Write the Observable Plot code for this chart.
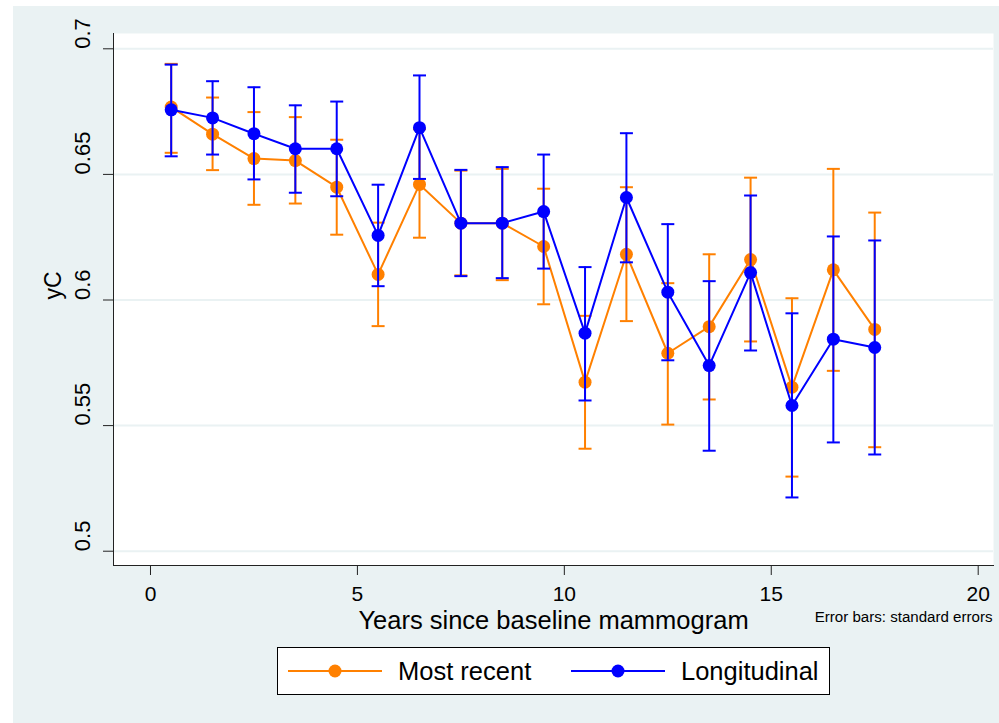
<!DOCTYPE html>
<html>
<head>
<meta charset="utf-8">
<script src="https://cdn.jsdelivr.net/npm/d3@7"></script>
<script src="https://cdn.jsdelivr.net/npm/@observablehq/plot@0.6"></script>
<style>
  body { margin: 0; background: #ffffff; font-family: "Liberation Sans", Arial, sans-serif; }
  #page { position: relative; width: 999px; height: 723px; overflow: hidden; }
  #bg { position: absolute; left: 13px; top: 6px; width: 986px; height: 717px; background: #eaf2f3; }
  #chart { position: absolute; left: 0; top: 0; }
  #legend { position: absolute; left: 277px; top: 647px; width: 551px; height: 46px; border: 1px solid #000; background: #fff; }
  .sw { position: absolute; top: 0; }
  .lt { position: absolute; top: 0; height: 46px; line-height: 46px; font-size: 25.5px; color: #000; white-space: nowrap; }
</style>
</head>
<body>
<div id="page">
  <div id="bg"></div>
  <div id="chart"></div>
  <div id="legend"></div>
</div>
<script>
// ---- data ----
const years = [0.5, 1.5, 2.5, 3.5, 4.5, 5.5, 6.5, 7.5, 8.5, 9.5, 10.5, 11.5, 12.5, 13.5, 14.5, 15.5, 16.5, 17.5];

const recentMean = [0.6768, 0.6660, 0.6563, 0.6555, 0.6449, 0.6102, 0.6460, 0.6306, 0.6306, 0.6213, 0.5673, 0.6182, 0.5788, 0.5894, 0.6161, 0.5653, 0.6120, 0.5883];
const recentLo   = [0.6586, 0.6517, 0.6379, 0.6384, 0.6260, 0.5896, 0.6248, 0.6098, 0.6079, 0.5983, 0.5408, 0.5916, 0.5504, 0.5604, 0.5835, 0.5297, 0.5718, 0.5414];
const recentHi   = [0.6940, 0.6806, 0.6748, 0.6728, 0.6638, 0.6308, 0.6680, 0.6515, 0.6522, 0.6443, 0.5937, 0.6449, 0.6067, 0.6182, 0.6487, 0.6007, 0.6522, 0.6348];

const longMean = [0.6757, 0.6725, 0.6662, 0.6602, 0.6602, 0.6257, 0.6686, 0.6306, 0.6306, 0.6352, 0.5868, 0.6408, 0.6031, 0.5739, 0.6109, 0.5580, 0.5844, 0.5811];
const longLo   = [0.6572, 0.6579, 0.6480, 0.6427, 0.6413, 0.6055, 0.6482, 0.6095, 0.6087, 0.6125, 0.5600, 0.6150, 0.5760, 0.5400, 0.5799, 0.5214, 0.5433, 0.5385];
const longHi   = [0.6937, 0.6871, 0.6847, 0.6775, 0.6790, 0.6459, 0.6894, 0.6518, 0.6529, 0.6579, 0.6131, 0.6664, 0.6302, 0.6075, 0.6416, 0.5947, 0.6253, 0.6237];

const seriesNames = ["Most recent", "Longitudinal"];
const seriesColors = ["#ff8000", "#0000ff"];

const xTicks = [0, 5, 10, 15, 20];
const yTicks = [0.5, 0.55, 0.6, 0.65, 0.7];
const yTickLabels = ["0.5", "0.55", "0.6", "0.65", "0.7"];

const xTitle = "Years since baseline mammogram";
const yTitle = "yC";
const note = "Error bars: standard errors";

// ---- tables ----
const recent = years.map((x, i) => ({x, mean: recentMean[i], lo: recentLo[i], hi: recentHi[i]}));
const longi = years.map((x, i) => ({x, mean: longMean[i], lo: longLo[i], hi: longHi[i]}));

const capSymbol = {
  draw(ctx, size) {
    const r = Math.sqrt(size / Math.PI);
    ctx.moveTo(-r, 0);
    ctx.lineTo(r, 0);
  }
};

function seriesMarks(data, color) {
  return [
    Plot.ruleX(data, {x: "x", y1: "lo", y2: "hi", stroke: color, strokeWidth: 2}),
    Plot.dot(data, {x: "x", y: "lo", symbol: capSymbol, r: 6.5, stroke: color, strokeWidth: 2, fill: "none"}),
    Plot.dot(data, {x: "x", y: "hi", symbol: capSymbol, r: 6.5, stroke: color, strokeWidth: 2, fill: "none"}),
    Plot.line(data, {x: "x", y: "mean", stroke: color, strokeWidth: 2}),
    Plot.dot(data, {x: "x", y: "mean", r: 6.5, fill: color, stroke: "none"})
  ];
}

const chart = Plot.plot({
  width: 999,
  height: 640,
  marginLeft: 113,
  marginRight: 6,
  marginTop: 33,
  marginBottom: 75,
  style: {background: "transparent", fontFamily: "'Liberation Sans', Arial, sans-serif", color: "#000"},
  x: {domain: [-0.894, 20.37], label: null},
  y: {domain: [0.49431, 0.70609], label: null},
  marks: [
    Plot.frame({fill: "white", stroke: null}),
    Plot.gridY(yTicks, {stroke: "#eaf2f3", strokeOpacity: 1, strokeWidth: 2}),
    Plot.axisY(yTicks, {tickSize: 10, tickFormat: () => "", stroke: "#222", label: null}),
    Plot.text(yTicks, {y: d => d, frameAnchor: "left", dx: -24, rotate: -90, lineAnchor: "bottom", text: (d, i) => yTickLabels[i], fontSize: 22, fill: "#000"}),
    Plot.text([yTitle], {text: d => d, frameAnchor: "left", dx: -53, rotate: -90, lineAnchor: "bottom", fontSize: 23, fill: "#000"}),
    Plot.axisX(xTicks, {tickSize: 10, tickPadding: 11, fontSize: 21, stroke: "#222", fill: "#000", label: null}),
    Plot.frame({anchor: "left", stroke: "#222"}),
    Plot.frame({anchor: "bottom", stroke: "#222"}),
    Plot.text([xTitle], {text: d => d, frameAnchor: "bottom", dy: 55.3, lineAnchor: "middle", fontSize: 25.5, fill: "#000"}),
    Plot.text([note], {text: d => d, frameAnchor: "bottom-right", dx: -1, dy: 52, textAnchor: "end", lineAnchor: "middle", fontSize: 15.1, fill: "#000"}),
    ...seriesMarks(recent, seriesColors[0]),
    ...seriesMarks(longi, seriesColors[1])
  ]
});
document.getElementById("chart").appendChild(chart);

// ---- legend ----
const legend = document.getElementById("legend");
const items = [
  {name: seriesNames[0], color: seriesColors[0], swLeft: 288 - 278, txtLeft: 398 - 278},
  {name: seriesNames[1], color: seriesColors[1], swLeft: 571 - 278, txtLeft: 681 - 278}
];
items.forEach(it => {
  const sw = d3.create("svg").attr("class", "sw").attr("width", 94).attr("height", 46)
    .style("left", it.swLeft + "px");
  sw.append("line").attr("x1", 0).attr("x2", 94).attr("y1", 23).attr("y2", 23)
    .attr("stroke", it.color).attr("stroke-width", 2);
  sw.append("circle").attr("cx", 47).attr("cy", 23).attr("r", 6.5).attr("fill", it.color);
  legend.appendChild(sw.node());
  const t = document.createElement("div");
  t.className = "lt";
  t.style.left = it.txtLeft + "px";
  t.textContent = it.name;
  legend.appendChild(t);
});
</script>
</body>
</html>
